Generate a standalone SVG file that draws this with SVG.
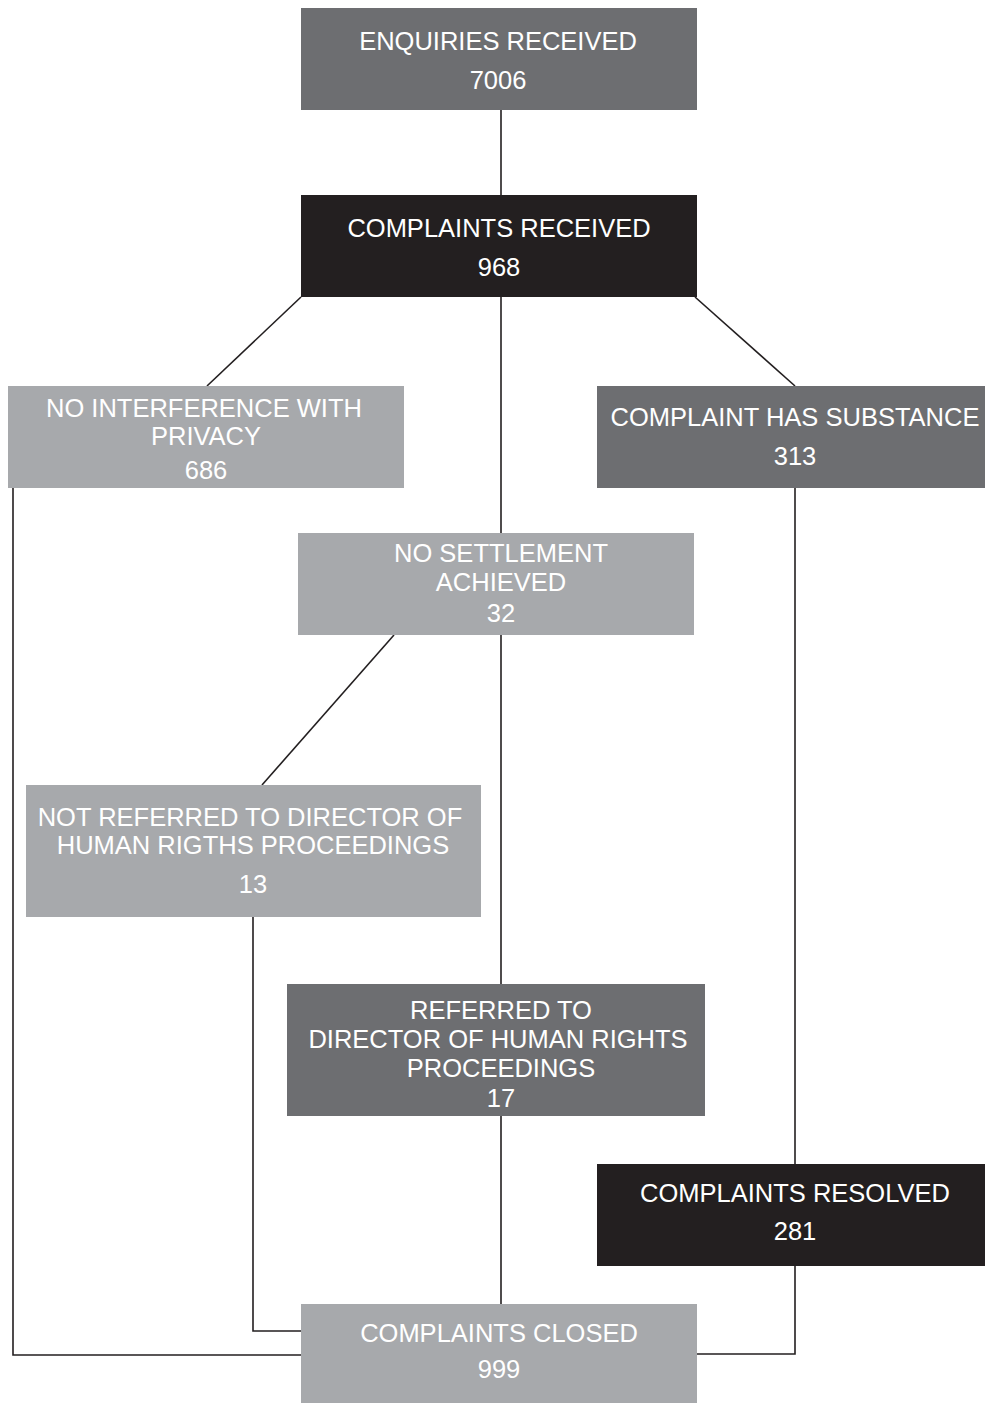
<svg xmlns="http://www.w3.org/2000/svg" width="985" height="1403" viewBox="0 0 985 1403">
<style>
.dark{fill:#6d6e71}
.black{fill:#231f20}
.light{fill:#a7a9ac}
text{font-family:"Liberation Sans",Arial,sans-serif;font-size:25.5px;fill:#ffffff;text-anchor:middle}
.conn{fill:none;stroke:#231f20;stroke-width:1.6}
</style>
<rect width="985" height="1403" fill="#ffffff"/>
<g id="connectors" class="conn">
<line x1="501" y1="110" x2="501" y2="195"/>
<line x1="301" y1="297" x2="207" y2="386"/>
<line x1="695" y1="297" x2="795" y2="386"/>
<line x1="501" y1="297" x2="501" y2="533"/>
<line x1="501" y1="635" x2="501" y2="984"/>
<line x1="394" y1="635" x2="262" y2="785"/>
<polyline points="253,917 253,1331 301,1331"/>
<polyline points="13,488 13,1355 301,1355"/>
<line x1="795" y1="488" x2="795" y2="1164"/>
<polyline points="795,1266 795,1354 697,1354"/>
<line x1="501" y1="1116" x2="501" y2="1304"/>
</g>
<g id="enquiries">
<rect class="dark" x="301" y="8" width="396" height="102"/>
<text x="498" y="50">ENQUIRIES RECEIVED</text>
<text x="498" y="89">7006</text>
</g>
<g id="complaints-received">
<rect class="black" x="301" y="195" width="396" height="102"/>
<text x="499" y="237">COMPLAINTS RECEIVED</text>
<text x="499" y="276">968</text>
</g>
<g id="no-interference">
<rect class="light" x="8" y="386" width="396" height="102"/>
<text x="204" y="417">NO INTERFERENCE WITH</text>
<text x="206" y="445">PRIVACY</text>
<text x="206" y="479">686</text>
</g>
<g id="substance">
<rect class="dark" x="597" y="386" width="388" height="102"/>
<text x="795" y="426">COMPLAINT HAS SUBSTANCE</text>
<text x="795" y="465">313</text>
</g>
<g id="no-settlement">
<rect class="light" x="298" y="533" width="396" height="102"/>
<text x="501" y="562">NO SETTLEMENT</text>
<text x="501" y="591">ACHIEVED</text>
<text x="501" y="622">32</text>
</g>
<g id="not-referred">
<rect class="light" x="26" y="785" width="455" height="132"/>
<text x="250" y="826">NOT REFERRED TO DIRECTOR OF</text>
<text x="253" y="854">HUMAN RIGTHS PROCEEDINGS</text>
<text x="253" y="893">13</text>
</g>
<g id="referred">
<rect class="dark" x="287" y="984" width="418" height="132"/>
<text x="501" y="1019">REFERRED TO</text>
<text x="498" y="1048">DIRECTOR OF HUMAN RIGHTS</text>
<text x="501" y="1077">PROCEEDINGS</text>
<text x="501" y="1107">17</text>
</g>
<g id="resolved">
<rect class="black" x="597" y="1164" width="388" height="102"/>
<text x="795" y="1202">COMPLAINTS RESOLVED</text>
<text x="795" y="1240">281</text>
</g>
<g id="closed">
<rect class="light" x="301" y="1304" width="396" height="99"/>
<text x="499" y="1342">COMPLAINTS CLOSED</text>
<text x="499" y="1378">999</text>
</g>
</svg>
